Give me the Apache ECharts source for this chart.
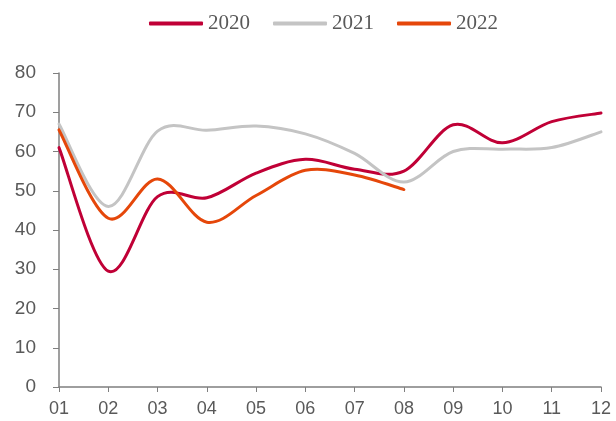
<!DOCTYPE html>
<html><head><meta charset="utf-8">
<script src="https://cdn.jsdelivr.net/npm/echarts@6/dist/echarts.min.js"></script>
<style>html,body{margin:0;padding:0;background:#fff}#c{width:616px;height:421px}</style>
</head><body><div id="c"></div>
<script>
const categories = ['01','02','03','04','05','06','07','08','09','10','11','12'];
const s2020 = [61, 29.5, 48.5, 48.2, 54.5, 58, 55.5, 55, 66.8, 62.2, 67.6, 69.8];
const s2021 = [67, 46, 65.2, 65.4, 66.5, 64.5, 59.5, 52.2, 60, 60.6, 61, 65];
const s2022 = [65.5, 43, 53, 42, 48.8, 55.2, 54, 50.3];
const yTicks = {min: 0, max: 80, interval: 10};

const chart = echarts.init(document.getElementById('c'), null, {renderer: 'canvas'});

// Excel-like smoothed line (Catmull-Rom Bezier) drawn through the axes' own coordinate mapping
function smoothLine(name, values, color) {
  return {
    name, type: 'custom', coordinateSystem: 'cartesian2d',
    data: values.map((v, i) => [i, v]),
    encode: {x: 0, y: 1},
    itemStyle: {color},
    renderItem(params, api) {
      if (params.dataIndex !== 0) return null;
      const p = values.map((v, i) => api.coord([i, v]));
      const n = p.length;
      let d = 'M' + p[0][0] + ',' + p[0][1];
      for (let i = 0; i < n - 1; i++) {
        const p0 = p[i - 1] || p[i], p1 = p[i], p2 = p[i + 1], p3 = p[i + 2] || p[i + 1];
        const c1x = p1[0] + (p2[0] - p0[0]) / 6, c1y = p1[1] + (p2[1] - p0[1]) / 6;
        const c2x = p2[0] - (p3[0] - p1[0]) / 6, c2y = p2[1] - (p3[1] - p1[1]) / 6;
        d += ' C' + c1x + ',' + c1y + ' ' + c2x + ',' + c2y + ' ' + p2[0] + ',' + p2[1];
      }
      return {
        type: 'path', shape: {pathData: d},
        style: {fill: 'none', stroke: color, lineWidth: 3, lineCap: 'round', lineJoin: 'round'}
      };
    }
  };
}

chart.setOption({
  animation: false,
  legend: {
    top: 8, left: 144,
    icon: 'roundRect', itemWidth: 54, itemHeight: 4, itemGap: 23,
    textStyle: {fontFamily: 'Liberation Serif', fontSize: 21, color: '#595959'},
    data: ['2020', '2021', '2022']
  },
  grid: {left: 59, right: 15, top: 73, bottom: 34, containLabel: false},
  xAxis: {
    type: 'category', data: categories, boundaryGap: false,
    axisLine: {lineStyle: {color: '#7f7f7f', width: 1.5}},
    axisTick: {show: true, length: 5, lineStyle: {color: '#7f7f7f'}},
    axisLabel: {color: '#595959', fontFamily: 'Liberation Sans', fontSize: 18, margin: 13}
  },
  yAxis: {
    type: 'value', min: yTicks.min, max: yTicks.max, interval: yTicks.interval,
    axisLine: {show: true, lineStyle: {color: '#7f7f7f', width: 1.5}},
    axisTick: {show: true, length: 6, lineStyle: {color: '#7f7f7f'}},
    splitLine: {show: false},
    axisLabel: {color: '#595959', fontFamily: 'Liberation Sans', fontSize: 19, margin: 23}
  },
  series: [
    smoothLine('2020', s2020, '#C00036'),
    smoothLine('2021', s2021, '#C4C4C4'),
    smoothLine('2022', s2022, '#E5470A')
  ]
});
</script></body></html>
